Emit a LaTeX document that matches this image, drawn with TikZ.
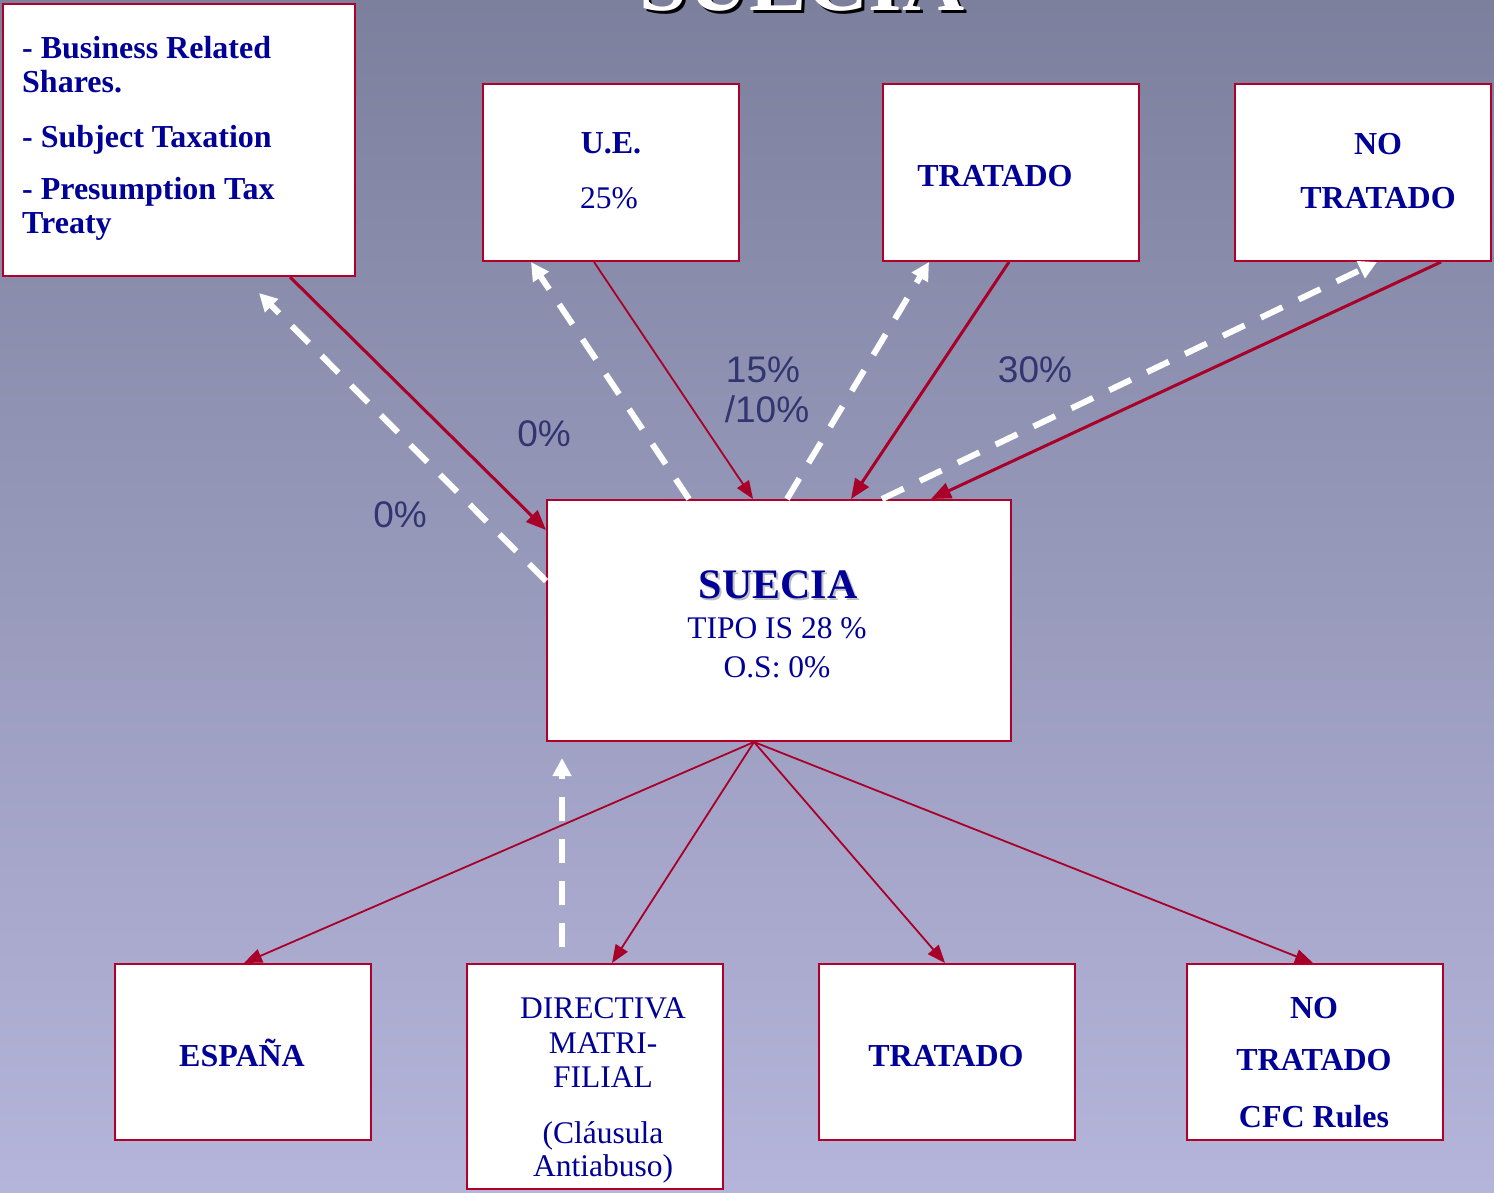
\documentclass[tikz,border=0pt]{standalone}
\usepackage{fontspec}
\setmainfont{Liberation Serif}
\newfontfamily\arialf{Liberation Sans}
\usetikzlibrary{arrows.meta}
\definecolor{bgtop}{RGB}{124,128,157}
\definecolor{bgbot}{RGB}{181,181,219}
\definecolor{boxred}{RGB}{176,0,42}
\definecolor{arrred}{RGB}{168,0,40}
\definecolor{txtblue}{RGB}{0,0,150}
\definecolor{lblblue}{RGB}{50,54,112}
\newcommand\bxb{\fontsize{32}{36}\selectfont\bfseries}
\newcommand\bxr{\fontsize{31.5}{36}\selectfont}
\tikzset{
  box/.style={draw=boxred, line width=2pt, fill=white, rectangle, inner sep=0pt},
  tb/.style={anchor=base, inner sep=0pt, text=txtblue, font=\bxb},
  tr/.style={anchor=base, inner sep=0pt, text=txtblue, font=\bxr},
  tl/.style={anchor=base west, inner sep=0pt, text=txtblue, font=\bxb},
  pct/.style={anchor=base, inner sep=0pt, text=lblblue, font=\arialf\fontsize{37}{40}\selectfont},
  redthick/.style={draw=arrred, line width=3pt, -{Triangle[length=20pt,width=16pt]}},
  redthin/.style={draw=arrred, line width=1.8pt, -{Triangle[length=18pt,width=14pt]}},
  whitedash/.style={draw=white, line width=6pt, dash pattern=on 24pt off 18pt, -{Triangle[length=18pt,width=18pt]}}
}
\begin{document}
\begin{tikzpicture}[x=1pt,y=-1pt]
\useasboundingbox (0,0) rectangle (1494,1192);
\clip (0,0) rectangle (1494,1192);
\shade[top color=bgtop, bottom color=bgbot] (0,0) rectangle (1494,1192);

% title (cut off at top)
\node[anchor=base, inner sep=0pt, text=black, font=\fontsize{86}{90}\selectfont\bfseries] (titleS) at (805,13) {SUECIA};
\node[anchor=base, inner sep=0pt, text=white, font=\fontsize{86}{90}\selectfont\bfseries] (title) at (802,10) {SUECIA};

% boxes
\node[box, minimum width=352pt, minimum height=272pt] (brs) at (179,140) {};
\node[box, minimum width=256pt, minimum height=177pt] (ue) at (611,172.5) {};
\node[box, minimum width=256pt, minimum height=177pt] (trT) at (1011,172.5) {};
\node[box, minimum width=256pt, minimum height=177pt] (ntT) at (1363,172.5) {};
\node[box, minimum width=464pt, minimum height=241pt] (suecia) at (779,620.5) {};
\node[box, minimum width=256pt, minimum height=176pt] (esp) at (243,1052) {};
\node[box, minimum width=256pt, minimum height=225pt] (dir) at (595,1076.5) {};
\node[box, minimum width=256pt, minimum height=176pt] (trB) at (947,1052) {};
\node[box, minimum width=256pt, minimum height=176pt] (ntB) at (1315,1052) {};

% box texts
\node[tl] (brs1) at (22,58) {- Business Related};
\node[tl] (brs2) at (22,92) {Shares.};
\node[tl] (brs3) at (22,147) {- Subject Taxation};
\node[tl] (brs4) at (22,199) {- Presumption Tax};
\node[tl] (brs5) at (22,233) {Treaty};

\node[tb] (ue1) at (611,153) {U.E.};
\node[tr] (ue2) at (609,208) {25\%};

\node[tb] (trT1) at (995,186) {TRATADO};

\node[tb] (ntT1) at (1378,154) {NO};
\node[tb] (ntT2) at (1378,208) {TRATADO};

\node[anchor=base, inner sep=0pt, text=black!25, font=\fontsize{42}{46}\selectfont\bfseries] (su0) at (780,600) {SUECIA};
\node[anchor=base, inner sep=0pt, text=txtblue, font=\fontsize{42}{46}\selectfont\bfseries] (su1) at (778,598) {SUECIA};
\node[tr] (su2) at (777,638) {TIPO IS 28 \%};
\node[tr] (su3) at (777,677) {O.S: 0\%};

\node[tb] (esp1) at (242,1066) {ESPAÑA};

\node[tr] (dir1) at (603,1018) {DIRECTIVA};
\node[tr] (dir2) at (603,1053) {MATRI-};
\node[tr] (dir3) at (603,1087) {FILIAL};
\node[tr] (dir4) at (603,1143) {(Cláusula};
\node[tr] (dir5) at (603,1176) {Antiabuso)};

\node[tb] (trB1) at (946,1066) {TRATADO};

\node[tb] (ntB1) at (1314,1018) {NO};
\node[tb] (ntB2) at (1314,1070) {TRATADO};
\node[tb] (ntB3) at (1314,1127) {CFC Rules};

% percent labels
\node[pct] (p1) at (400,527) {0\%};
\node[pct] (p2) at (544,446) {0\%};
\node[pct] (p3) at (763,382) {15\%};
\node[pct] (p4) at (767,422) {/10\%};
\node[pct] (p5) at (1035,382) {30\%};

% connectors top
\coordinate (brsIn) at ([xshift=257pt,yshift=-16pt]brs.south west);
\draw[whitedash] ([yshift=-82pt]suecia.north west) -- (brsIn);
\draw[redthick] ([xshift=288pt]brs.south west) -- ([yshift=-31pt]suecia.north west);

\draw[whitedash] ([xshift=143pt]suecia.north west) -- ([xshift=49pt]ue.south west);
\draw[redthin] ([xshift=112pt]ue.south west) -- ([xshift=207pt]suecia.north west);

\draw[whitedash] ([xshift=241pt]suecia.north west) -- ([xshift=47pt]trT.south west);
\draw[redthick] ([xshift=127pt]trT.south west) -- ([xshift=305pt]suecia.north west);

\draw[whitedash] ([xshift=336pt]suecia.north west) -- ([xshift=143pt]ntT.south west);
\draw[redthick] ([xshift=207pt]ntT.south west) -- ([xshift=385pt]suecia.north west);

% connectors bottom
\draw[redthin] ([xshift=208pt]suecia.south west) -- ([xshift=1pt]esp.north);
\draw[redthin] ([xshift=208pt]suecia.south west) -- ([xshift=17pt]dir.north);
\draw[redthin] ([xshift=208pt]suecia.south west) -- ([xshift=-2pt]trB.north);
\draw[redthin] ([xshift=208pt]suecia.south west) -- ([xshift=-2pt]ntB.north);

\draw[whitedash] ([xshift=96pt,yshift=16pt]dir.north west) -- ([xshift=16pt,yshift=-16pt]suecia.south west);
\end{tikzpicture}
\end{document}
